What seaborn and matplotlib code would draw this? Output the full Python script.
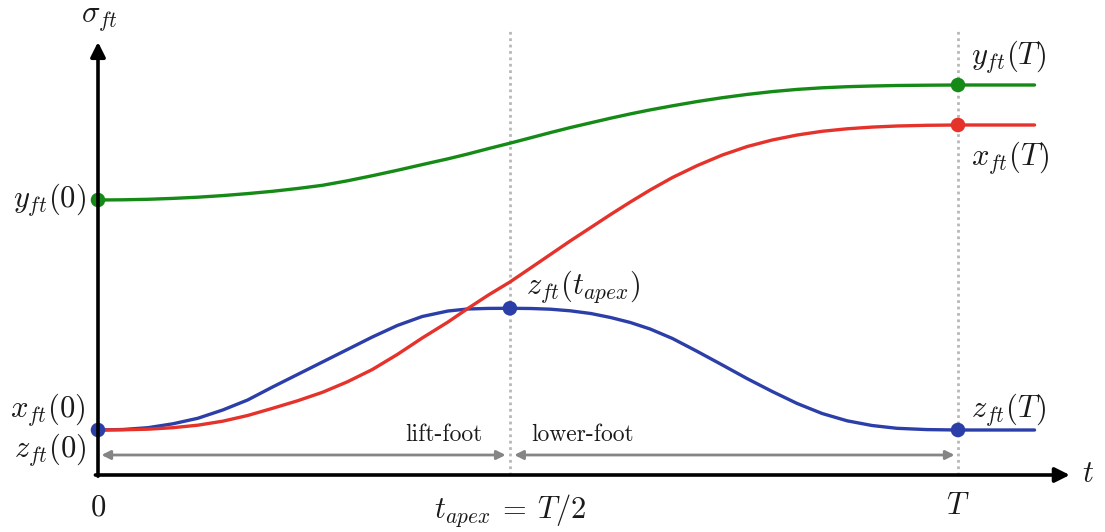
import numpy as np
import pandas as pd
import seaborn as sns
import matplotlib.pyplot as plt

# Foot trajectory samples, time in units of the step period T
t = [0.000, 0.029, 0.058, 0.087, 0.116, 0.145, 0.174, 0.203, 0.232, 0.261,
     0.290, 0.319, 0.348, 0.377, 0.407, 0.430, 0.454, 0.479, 0.503, 0.526,
     0.549, 0.573, 0.596, 0.619, 0.642, 0.668, 0.697, 0.726, 0.755, 0.784,
     0.813, 0.842, 0.871, 0.900, 0.929, 0.964, 1.000, 1.089]
y_ft = [2.750, 2.752, 2.757, 2.766, 2.778, 2.794, 2.814, 2.837, 2.865, 2.897,
        2.942, 2.993, 3.047, 3.104, 3.162, 3.210, 3.264, 3.318, 3.372, 3.424,
        3.474, 3.522, 3.568, 3.611, 3.651, 3.692, 3.735, 3.773, 3.806, 3.834,
        3.856, 3.872, 3.883, 3.890, 3.895, 3.898, 3.900, 3.900]
x_ft = [0.450, 0.452, 0.458, 0.473, 0.498, 0.538, 0.595, 0.667, 0.742, 0.827,
        0.932, 1.055, 1.205, 1.370, 1.530, 1.665, 1.800, 1.930, 2.070, 2.205,
        2.340, 2.475, 2.605, 2.730, 2.850, 2.975, 3.095, 3.200, 3.285, 3.350,
        3.400, 3.437, 3.462, 3.479, 3.490, 3.497, 3.500, 3.500]
z_ft = [0.450, 0.455, 0.473, 0.512, 0.567, 0.650, 0.750, 0.880, 1.005, 1.130,
        1.255, 1.380, 1.495, 1.585, 1.640, 1.660, 1.666, 1.667, 1.665, 1.658,
        1.642, 1.615, 1.575, 1.525, 1.460, 1.365, 1.235, 1.100, 0.963, 0.835,
        0.715, 0.615, 0.542, 0.495, 0.467, 0.454, 0.450, 0.450]

T_APEX = 0.479
T_END = 1.0

# Marked boundary / apex values
dot_t = [0.0, 0.0, T_APEX, T_END, T_END, T_END]
dot_v = [2.75, 0.45, 1.667, 3.90, 3.50, 0.45]
dot_c = ["y", "z", "z", "y", "x", "z"]

colors = {"y": "#168a16", "x": "#e5322b", "z": "#2c3ea8"}

sns.set_theme(style="white")
plt.rcParams["mathtext.fontset"] = "cm"
plt.rcParams["font.family"] = ["DejaVu Serif"]

df = pd.concat([
    pd.DataFrame({"t": t, "value": z_ft, "coord": "z"}),
    pd.DataFrame({"t": t, "value": x_ft, "coord": "x"}),
    pd.DataFrame({"t": t, "value": y_ft, "coord": "y"}),
])
dots = pd.DataFrame({"t": dot_t, "value": dot_v, "coord": dot_c})

fig = plt.figure(figsize=(11.05, 5.32), dpi=100)
ax = fig.add_axes([0, 0, 1, 1])
ax.set_xlim(-98 / 860, 1007 / 860)
ax.set_ylim(-0.57, 4.75)
ax.axis("off")

# dotted guides at apex and end of swing
ax.vlines([T_APEX, T_END], 0, 4.47, colors="#b8b8b8", lw=2.0,
          linestyles=(0, (1, 1.3)), zorder=1)

sns.lineplot(data=df, x="t", y="value", hue="coord", palette=colors,
             legend=False, linewidth=2.4, ax=ax, zorder=3)
sns.scatterplot(data=dots, x="t", y="value", hue="coord", palette=colors,
                legend=False, s=110, linewidth=0, ax=ax, zorder=4)

# coordinate axes with arrow heads
ax.annotate("", xy=(1.13, 0), xytext=(-0.003, 0),
            arrowprops=dict(arrowstyle="-|>", lw=2.6, color="black",
                            mutation_scale=22, shrinkA=0, shrinkB=0), zorder=5)
ax.annotate("", xy=(0, 4.33), xytext=(0, -0.012),
            arrowprops=dict(arrowstyle="-|>", lw=2.6, color="black",
                            mutation_scale=22, shrinkA=0, shrinkB=0), zorder=5)

# phase spans
arrow_kw = dict(arrowstyle="<|-|>", lw=2.0, color="#858585",
                mutation_scale=13, shrinkA=0, shrinkB=0)
ax.annotate("", xy=(T_APEX - 0.005, 0.20), xytext=(0.004, 0.20), arrowprops=arrow_kw)
ax.annotate("", xy=(T_END - 0.004, 0.20), xytext=(T_APEX + 0.005, 0.20), arrowprops=arrow_kw)

fs = 22
txt = dict(fontsize=fs, color="#1a1a1a")
ax.text(0.002, 4.58, r"$\sigma_{ft}$", ha="center", va="center", **txt)
ax.text(1.151, 0.02, r"$t$", ha="center", va="center", **txt)
ax.text(-0.014, 2.75, r"$y_{ft}(0)$", ha="right", va="center", **txt)
ax.text(-0.014, 0.65, r"$x_{ft}(0)$", ha="right", va="center", **txt)
ax.text(-0.014, 0.25, r"$z_{ft}(0)$", ha="right", va="center", **txt)
ax.text(0.0, -0.32, r"$0$", ha="center", va="center", **txt)
ax.text(T_APEX, -0.36, r"$t_{apex}\:=\:T/2$", ha="center", va="center", **txt)
ax.text(T_END, -0.31, r"$T$", ha="center", va="center", **txt)
ax.text(1.015, 4.18, r"$y_{ft}(T)$", ha="left", va="center", **txt)
ax.text(1.015, 3.17, r"$x_{ft}(T)$", ha="left", va="center", **txt)
ax.text(1.015, 0.65, r"$z_{ft}(T)$", ha="left", va="center", **txt)
ax.text(0.498, 1.88, r"$z_{ft}(t_{apex})$", ha="left", va="center", **txt)
ax.text(0.402, 0.40, "lift-foot", ha="center", va="center",
        fontsize=17, family="cmr10", color="#1a1a1a")
ax.text(0.563, 0.40, "lower-foot", ha="center", va="center",
        fontsize=17, family="cmr10", color="#1a1a1a")

fig.savefig("out.png", dpi=100)
